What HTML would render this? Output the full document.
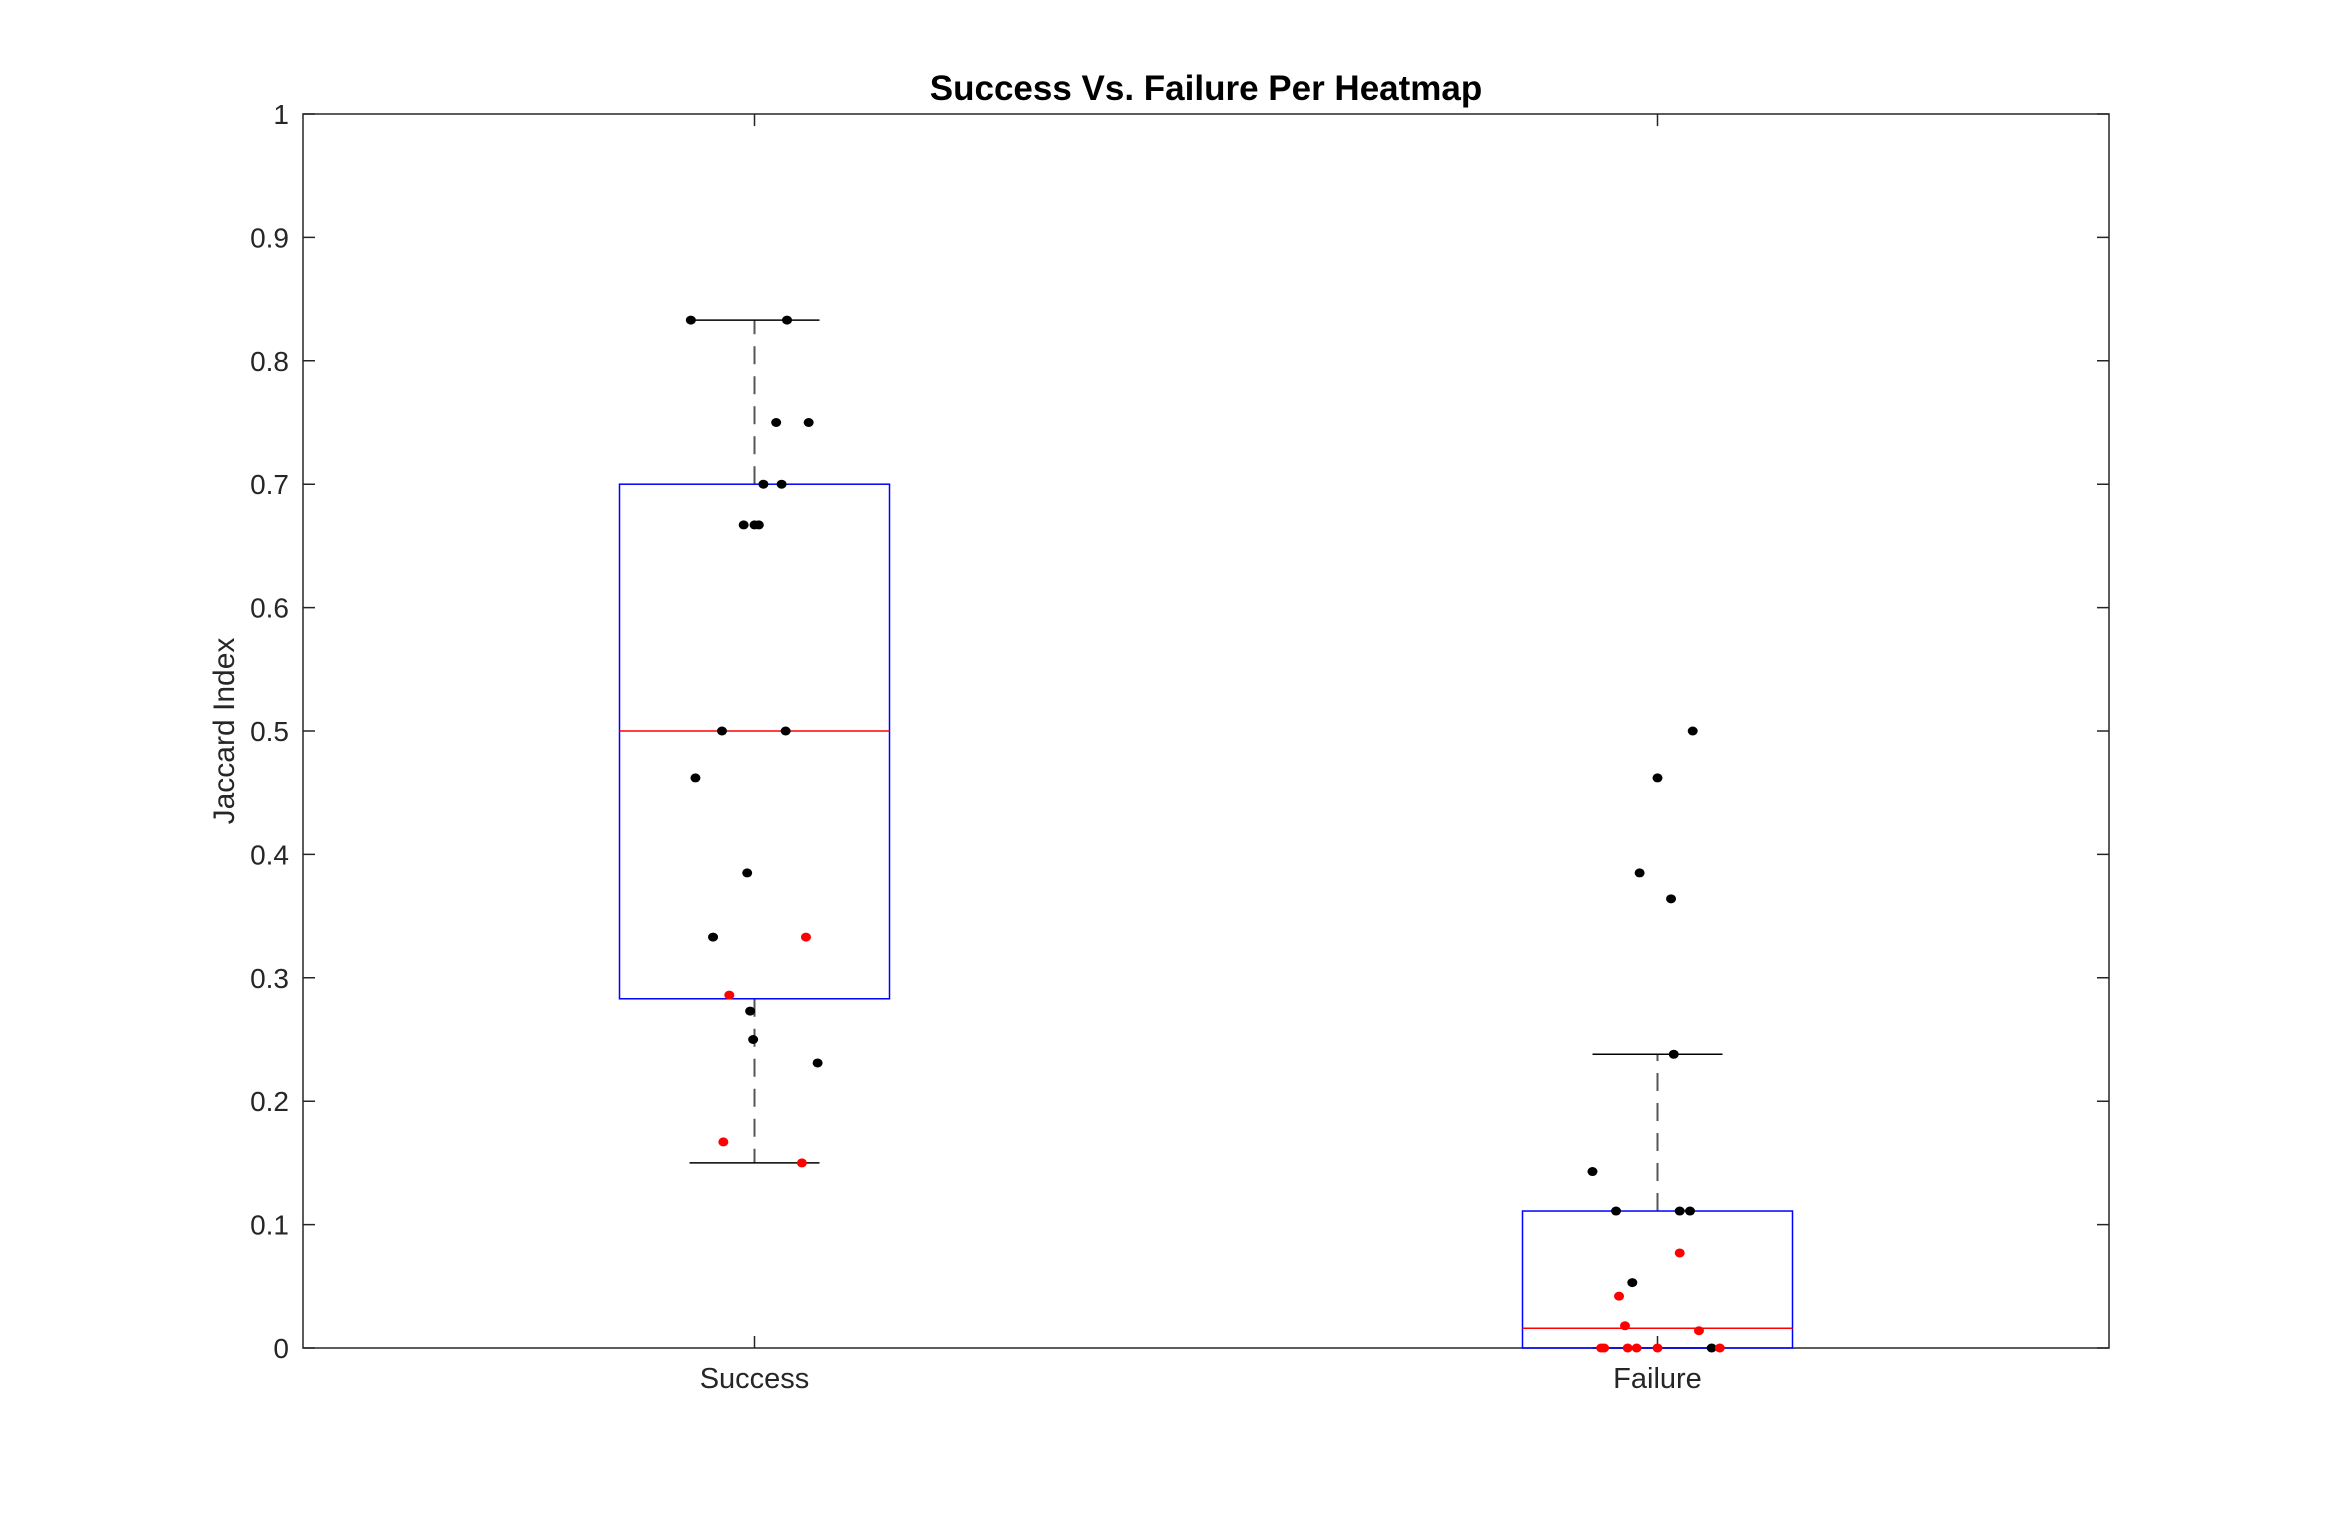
<!DOCTYPE html>
<html><head><meta charset="utf-8"><style>
html,body{margin:0;padding:0;background:#fff;}
svg{display:block;font-family:"Liberation Sans",sans-serif;}
</style></head><body>
<svg id="chart" width="2328" height="1514" viewBox="0 0 2328 1514"></svg>
<script>
const categories = ["Success","Failure"];
const q1 = [0.283, 0];
const medians = [0.5, 0.016];
const q3 = [0.70, 0.111];
const whiskerLow = [0.15, 0];
const whiskerHigh = [0.833, 0.238];
const successValues = [0.833,0.833,0.75,0.75,0.70,0.70,0.667,0.667,0.667,0.5,0.5,0.462,0.385,0.333,0.333,0.286,0.273,0.25,0.231,0.167,0.15];
const successJitter = [-0.235,0.12,0.08,0.2,0.033,0.1,-0.04,0,0.016,-0.12,0.115,-0.218,-0.027,-0.153,0.19,-0.093,-0.016,-0.005,0.233,-0.115,0.175];
const successRed = [0,0,0,0,0,0,0,0,0,0,0,0,0,0,1,1,0,0,0,1,1];
const failureValues = [0.5,0.462,0.385,0.364,0.238,0.143,0.111,0.111,0.111,0.077,0.053,0.042,0.018,0.014,0,0,0,0,0,0,0];
const failureJitter = [0.13,0,-0.066,0.05,0.06,-0.24,-0.153,0.082,0.12,0.082,-0.093,-0.142,-0.12,0.153,-0.208,-0.197,-0.11,-0.077,0,0.2,0.23];
const failureRed = [0,0,0,0,0,0,0,0,0,1,0,1,1,1,1,1,1,1,1,0,1];
const yTicks = [0,0.1,0.2,0.3,0.4,0.5,0.6,0.7,0.8,0.9,1];
const yTickLabels = ["0","0.1","0.2","0.3","0.4","0.5","0.6","0.7","0.8","0.9","1"];

const L=303,R=2109,T=114,B=1348;
const NS="http://www.w3.org/2000/svg";
const svg=document.getElementById('chart');
const y=v=>B-(B-T)*v;
const x=i=>L+(R-L)*(i+0.5)/2;
const boxHalf=135, capHalf=65, jitterScale=(R-L)/2;
function mk(t,a,p){const e=document.createElementNS(NS,t);for(const k in a)e.setAttribute(k,a[k]);(p||svg).appendChild(e);return e;}

const frame=mk('rect',{x:L,y:T,width:R-L,height:B-T,fill:'none',stroke:'#262626','stroke-width':1.5});



yTicks.forEach((v,i)=>{
  const tk=mk('path',{d:`M${L},${y(v)}h12M${R},${y(v)}h-12`,stroke:'#262626','stroke-width':1.5});
  
  
  const t=mk('text',{x:L-14,y:y(v)+10,'text-anchor':'end','font-size':28,fill:'#262626'});
  t.textContent=yTickLabels[i];
  
  
});
categories.forEach((c,i)=>{
  const tk=mk('path',{d:`M${x(i)},${B}v-12M${x(i)},${T}v12`,stroke:'#262626','stroke-width':1.5});
  
  
  const t=mk('text',{x:x(i),y:B+40,'text-anchor':'middle','font-size':29,fill:'#262626'});
  t.textContent=c;
  
  

  const g=mk('g',{});
  
  
  mk('path',{d:`M${x(i)},${y(q3[i])}V${y(whiskerHigh[i])}M${x(i)},${y(q1[i])}V${y(whiskerLow[i])}`,stroke:'#555','stroke-width':2,'stroke-dasharray':'18,12',fill:'none'},g);
  mk('path',{d:`M${x(i)-capHalf},${y(whiskerHigh[i])}h${2*capHalf}M${x(i)-capHalf},${y(whiskerLow[i])}h${2*capHalf}`,stroke:'#000','stroke-width':1.5},g);
  mk('rect',{x:x(i)-boxHalf,y:y(q3[i]),width:2*boxHalf,height:y(q1[i])-y(q3[i]),fill:'none',stroke:'#0000ff','stroke-width':1.5},g);
  mk('line',{x1:x(i)-boxHalf,x2:x(i)+boxHalf,y1:y(medians[i]),y2:y(medians[i]),stroke:'#ff0000','stroke-width':1.5},g);
});
function pts(vals,jit,red,i){
  vals.forEach((v,k)=>{
    const c=mk('ellipse',{cx:x(i)+jit[k]*jitterScale*0.3,cy:y(v),rx:5,ry:4.5,fill:red[k]?'#ff0000':'#000'});
    
    
  });
}
pts(successValues,successJitter,successRed,0);
pts(failureValues,failureJitter,failureRed,1);

const title=mk('text',{x:(L+R)/2,y:100,'text-anchor':'middle','font-size':35,'font-weight':'bold',fill:'#000'});
title.textContent='Success Vs. Failure Per Heatmap';


const yl=mk('text',{x:0,y:0,'text-anchor':'middle','font-size':30,fill:'#262626',transform:`translate(234,${y(0.5)}) rotate(-90)`});
yl.textContent='Jaccard Index';


</script>
</body></html>
